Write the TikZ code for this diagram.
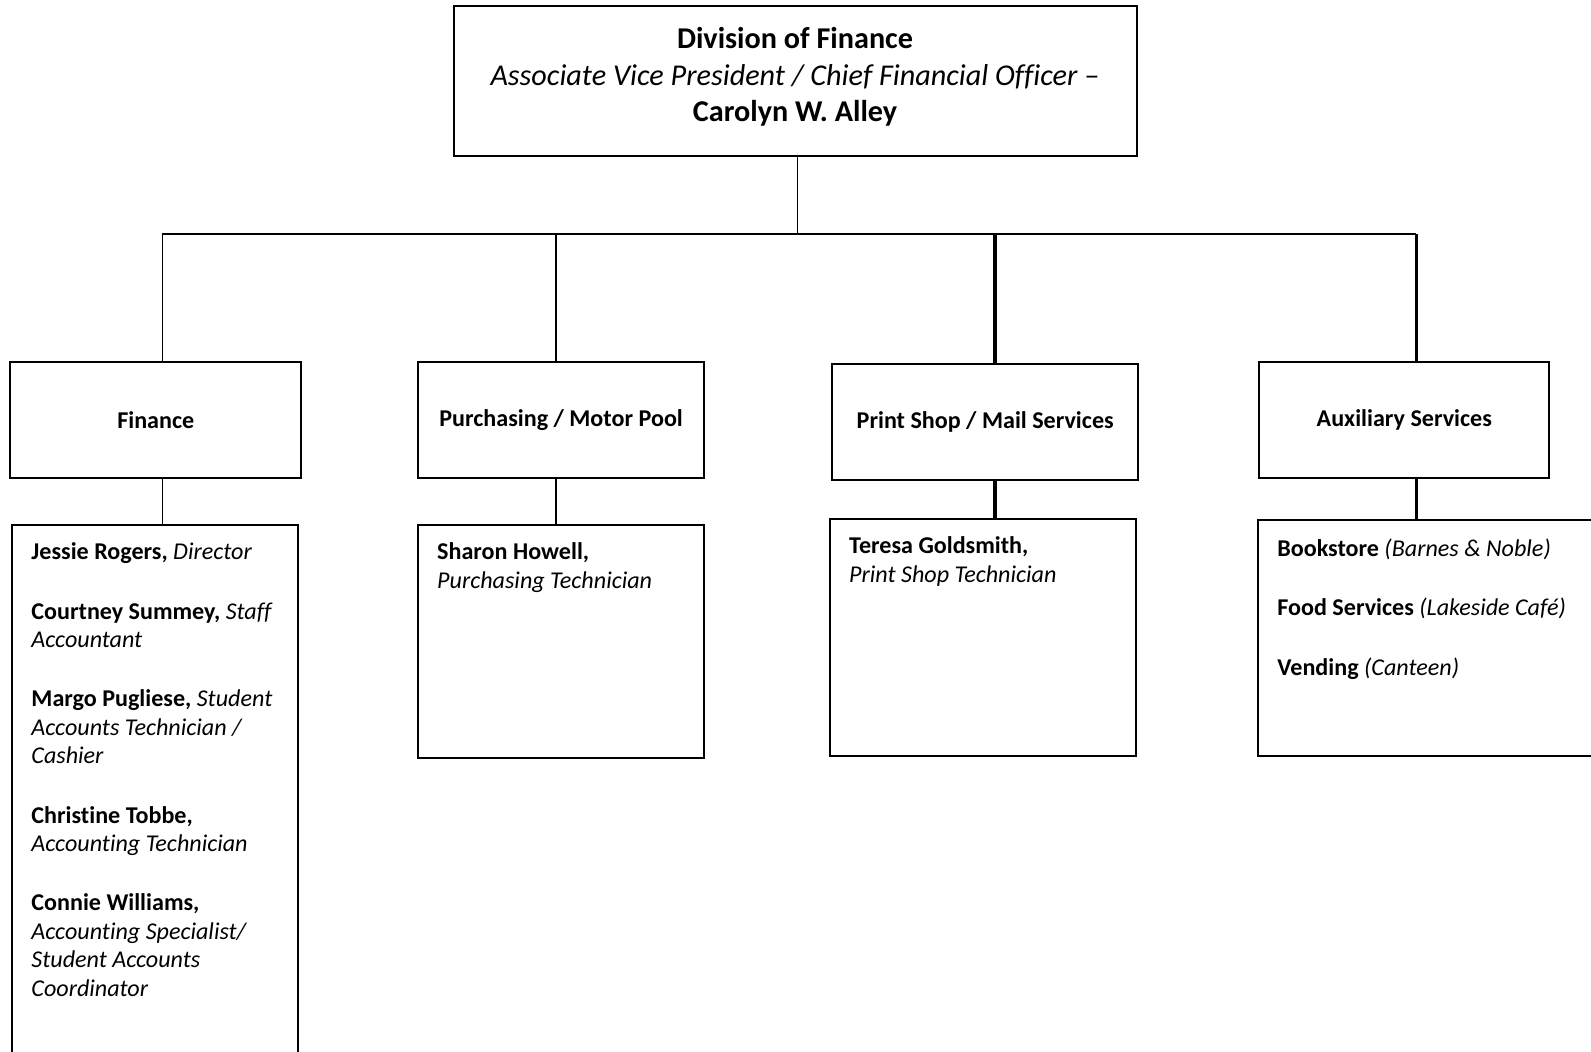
\documentclass[tikz,border=0pt]{standalone}
\usepackage{fontspec}
\setmainfont{Carlito}[Ligatures=NoCommon]
\usetikzlibrary{positioning}
\newcommand{\headfont}{\fontsize{30.2}{36.5}\selectfont}
\newcommand{\unitfont}{\fontsize{24.1}{28.4}\selectfont\bfseries}
\newcommand{\stafffont}{\fontsize{24.1}{28.4}\selectfont}
\begin{document}
\begin{tikzpicture}[x=1pt,y=-1pt,
	head node/.style = {draw, line width=2pt, inner sep=0pt, minimum width=683pt, minimum height=150pt},
	unit node/.style = {draw, line width=2pt, inner sep=0pt, minimum height=115.7pt, font=\unitfont},
	staff node/.style = {draw, line width=2pt, inner sep=0pt},
	staff text/.style = {inner sep=0pt, anchor=north west, align=left, font=\stafffont},
	link/.style = {line width=1.5pt}]
	\useasboundingbox (0,0) rectangle (1591,1052);
	\clip (0,0) rectangle (1591,1052);
	\node[head node] (top) at (795,81.2) {};
	\node[align=center, font=\headfont] (toptxt) at ([yshift=4pt]top.center) {\textbf{Division of Finance}\\ \textit{Associate Vice President / Chief Financial Officer –}\\ \textbf{Carolyn W. Alley}};
	\node[unit node, minimum width=291pt] (fin) at (155.75,420) {Finance};
	\node[unit node, minimum width=286pt] (pur) at (561.1,420) {Purchasing / Motor Pool};
	\node[unit node, minimum width=306.4pt] (prt) at (985.2,422.1) {Print Shop / Mail Services};
	\node[unit node, minimum width=290pt] (aux) at (1404.3,420) {Auxiliary Services};
	\node[staff node, minimum width=286pt, minimum height=545pt] [below=44.7pt of fin, xshift=-0.5pt] (finstaff) {};
	\node[staff node, minimum width=286.2pt, minimum height=233.4pt] [below=44.7pt of pur] (purstaff) {};
	\node[staff node, minimum width=306.4pt, minimum height=237.5pt] [below=36.6pt of prt, xshift=-2pt] (prtstaff) {};
	\node[staff node, minimum width=351.8pt, minimum height=235.5pt] [below=40.6pt of aux, xshift=29.8pt] (auxstaff) {};
	\node[staff text] (fintxt) at ([shift={(20,19)}]finstaff.north west) {\textbf{Jessie Rogers,} \textit{Director}\\[31pt]
		\textbf{Courtney Summey,} \textit{Staff}\\ \textit{Accountant}\\[31pt]
		\textbf{Margo Pugliese,} \textit{Student}\\ \textit{Accounts Technician /}\\ \textit{Cashier}\\[31pt]
		\textbf{Christine Tobbe,}\\ \textit{Accounting Technician}\\[31pt]
		\textbf{Connie Williams,}\\ \textit{Accounting Specialist/}\\ \textit{Student Accounts}\\ \textit{Coordinator}};
	\node[staff text] (purtxt) at ([shift={(20,19)}]purstaff.north west) {\textbf{Sharon Howell,}\\ \textit{Purchasing Technician}};
	\node[staff text] (prttxt) at ([shift={(20,19)}]prtstaff.north west) {\textbf{Teresa Goldsmith,}\\ \textit{Print Shop Technician}};
	\node[staff text] (auxtxt) at ([shift={(20,19)}]auxstaff.north west) {\textbf{Bookstore} \textit{(Barnes \& Noble)}\\[31pt]
		\textbf{Food Services} \textit{(Lakeside Café)}\\[31pt]
		\textbf{Vending} \textit{(Canteen)}};
	% bus
	\coordinate (jt) at (797.5,234.4);
	\coordinate (j1) at (162.3,234.4);
	\coordinate (j2) at (556,234.4);
	\coordinate (j3) at (995.4,234.4);
	\coordinate (j4) at (1416.4,234.4);
	\draw[link] (top.south -| jt) -- (jt);
	\draw[line width=2pt] (j1) -- (j4);
	\draw[link] (j1) -- (j1 |- fin.north);
	\draw[link] (j2) -- (j2 |- pur.north);
	\draw[line width=4pt] (j3) -- (j3 |- prt.north);
	\draw[line width=2.5pt] (j4) -- (j4 |- aux.north);
	\draw[link] (fin.south -| j1) -- (j1 |- finstaff.north);
	\draw[link] (pur.south -| j2) -- (j2 |- purstaff.north);
	\draw[line width=4pt] (prt.south -| j3) -- (j3 |- prtstaff.north);
	\draw[line width=2.5pt] (aux.south -| j4) -- (j4 |- auxstaff.north);
\end{tikzpicture}
\end{document}
